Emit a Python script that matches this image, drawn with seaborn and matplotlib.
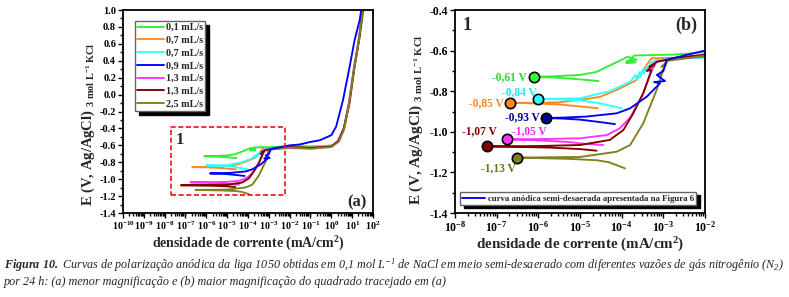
import numpy as np
import matplotlib
matplotlib.use('Agg')
import matplotlib.pyplot as plt
import matplotlib.ticker as mticker
from matplotlib.patches import Rectangle
import seaborn as sns

# vazoes de N2 (legenda do painel a)
LEGENDAS = ['0,1 mL/s', '0,7 mL/s', '0,7 mL/s', '0,9 mL/s', '1,3 mL/s', '1,3 mL/s', '2,5 mL/s']
CORES = ['#33ee33', '#ff8822', '#33ffff', '#0000ff', '#ff33ff', '#800000', '#808020']
CORES_ECORR = ['#33ff33', '#ff8822', '#33ffff', '#000099', '#ff33ff', '#800000', '#808020']
CORES_ROTULO = ['#22dd22', '#ff8822', '#22e8e8', '#000099', '#ff22ff', '#800000', '#707018']
ROTULOS_ECORR = ['-0,61 V', '-0,85 V', '-0,84 V', '-0,93 V', '-1,05 V', '-1,07 V', '-1,13 V']

# densidade de corrente (mA/cm2) e potencial (V)
I_01 = [2.8e-5, 1.5e-5, 6e-6, 2.5e-6, 7.9e-7, 2e-6, 1e-5, 2.5e-5, 4.4e-5, 8e-5, 1.4e-4,
        2.3e-4, 1.3e-4, 2.2e-4, 1.3e-4, 2.0e-4, 5e-4, 1.5e-3, 4e-3, 1e-2, 3e-2, 1e-1,
        4e-1, 1.2, 2.5, 4.4, 7.6, 13, 23, 36]
E_01 = [-0.750, -0.745, -0.738, -0.733, -0.729, -0.727, -0.720, -0.705, -0.680, -0.655, -0.630,
        -0.645, -0.652, -0.658, -0.662, -0.624, -0.622, -0.620, -0.615, -0.608, -0.610, -0.612,
        -0.610, -0.598, -0.54, -0.38, -0.07, 0.33, 0.68, 1.02]

I_07a = [2.7e-5, 1e-5, 3e-6, 8e-7, 2.1e-7, 8e-7, 3e-6, 1e-5, 3e-5, 7.6e-5, 2.3e-4, 4e-4,
         5.2e-4, 8e-4, 2e-3, 1e-2, 1e-1, 1.0, 2.2, 4.0, 7.0, 12, 21, 33]
E_07a = [-0.884, -0.875, -0.865, -0.860, -0.857, -0.857, -0.855, -0.843, -0.828, -0.794, -0.745, -0.670,
         -0.638, -0.637, -0.635, -0.625, -0.630, -0.615, -0.55, -0.40, -0.10, 0.30, 0.66, 1.02]

I_07b = [1e-4, 3e-5, 1e-5, 3e-6, 1e-6, 3e-6, 1e-5, 5.2e-5, 1.6e-4, 2.2e-4, 2.3e-4, 2.7e-4,
         2.8e-4, 3.3e-4, 3.4e-4, 4.0e-4, 4.1e-4, 5.0e-4, 6.9e-4, 2e-3, 1e-2, 1e-1, 1.0, 2.2,
         4.0, 7.0, 12, 21, 33]
E_07b = [-0.884, -0.860, -0.845, -0.840, -0.838, -0.837, -0.835, -0.800, -0.753, -0.720, -0.745, -0.705,
         -0.730, -0.690, -0.715, -0.675, -0.700, -0.660, -0.646, -0.640, -0.635, -0.640, -0.610, -0.55,
         -0.40, -0.10, 0.30, 0.66, 1.02]

I_09 = [6.9e-5, 3e-5, 1e-5, 4e-6, 1.5e-6, 4e-6, 1.4e-5, 7.6e-5, 1.6e-4, 4e-4, 8.3e-4, 6e-4,
        1.1e-3, 7e-4, 1.0e-3, 1.2e-3, 3e-3, 1e-2, 3e-2, 1e-1, 2.8e-1, 1.0, 1.7, 3.6, 7.6,
        13, 23, 28]
E_09 = [-0.962, -0.952, -0.940, -0.935, -0.932, -0.930, -0.925, -0.909, -0.884, -0.827, -0.761, -0.755,
        -0.750, -0.720, -0.700, -0.646, -0.625, -0.600, -0.590, -0.560, -0.540, -0.48, -0.38, -0.07, 0.33,
        0.64, 0.88, 1.02]

I_13a = [3.6e-5, 1.5e-5, 5e-6, 1e-6, 1.74e-7, 1e-6, 1e-5, 4.4e-5, 9e-5, 1.6e-4, 3.3e-4, 5.2e-4,
         7e-4, 2e-3, 1e-2, 1e-1, 1.0, 2.0, 4.0, 7.0, 12, 21, 33]
E_13a = [-1.065, -1.060, -1.050, -1.042, -1.037, -1.036, -1.032, -1.016, -0.983, -0.930, -0.810, -0.700,
         -0.655, -0.640, -0.630, -0.630, -0.610, -0.55, -0.40, -0.10, 0.30, 0.66, 1.02]

I_13b = [2.5e-5, 1e-5, 2e-6, 3e-7, 6e-8, 3e-7, 1e-6, 1e-5, 5.2e-5, 1.1e-4, 1.9e-4, 3.3e-4,
         5.2e-4, 4e-4, 6e-4, 4.6e-4, 6.9e-4, 2e-3, 1e-2, 1e-1, 1.0, 2.2, 4.0, 7.5, 12.5, 22, 34]
E_13b = [-1.093, -1.085, -1.078, -1.074, -1.072, -1.071, -1.070, -1.065, -1.040, -0.991, -0.909, -0.810,
         -0.696, -0.700, -0.670, -0.680, -0.655, -0.635, -0.620, -0.630, -0.615, -0.55, -0.40, -0.10, 0.30,
         0.66, 1.02]

I_25 = [1.2e-4, 5e-5, 2.5e-5, 5e-6, 3.1e-7, 1e-6, 1e-5, 7.6e-5, 1.6e-4, 3.3e-4, 6.9e-4, 8.3e-4,
        1e-3, 8e-4, 1.2e-3, 9e-4, 1.3e-3, 3e-3, 1e-2, 1e-1, 1.0, 2.2, 4.0, 7.0, 12, 21, 33]
E_25 = [-1.180, -1.150, -1.140, -1.133, -1.127, -1.126, -1.124, -1.098, -1.065, -0.958, -0.794, -0.745,
        -0.696, -0.730, -0.663, -0.680, -0.650, -0.640, -0.625, -0.640, -0.620, -0.56, -0.42, -0.12, 0.28,
        0.64, 1.02]

CORRENTES = [I_01, I_07a, I_07b, I_09, I_13a, I_13b, I_25]
POTENCIAIS = [E_01, E_07a, E_07b, E_09, E_13a, E_13b, E_25]

# quadrado tracejado do painel (a)
ZOOM_X = (2.1e-8, 5.8e-3)
ZOOM_Y = (-1.186, -0.383)

# deslocamento dos rotulos de Ecorr (px) e alinhamento
DESLOC = [(-7, 0), (-6, 0), (-2, 7), (-6, 1), (5, 8), (9, 15), (-1, -11)]
ALINHA = ['right', 'right', 'right', 'right', 'left', 'right', 'right']
ORDEM_Z = [2.0, 2.1, 2.2, 2.6, 2.3, 2.4, 2.5]

sns.set_theme(style='ticks')
plt.rcParams['font.family'] = ['Liberation Serif', 'DejaVu Serif']
plt.rcParams['font.weight'] = 'bold'
plt.rcParams['mathtext.fontset'] = 'custom'
plt.rcParams['mathtext.rm'] = 'Liberation Serif'
plt.rcParams['mathtext.it'] = 'Liberation Serif:italic'
plt.rcParams['mathtext.bf'] = 'Liberation Serif:bold'
plt.rcParams['mathtext.bfit'] = 'Liberation Serif:italic:bold'
plt.rcParams['mathtext.default'] = 'regular'
plt.rcParams['axes.unicode_minus'] = False
plt.rcParams['axes.edgecolor'] = 'black'
plt.rcParams['xtick.color'] = 'black'
plt.rcParams['ytick.color'] = 'black'

fig = plt.figure(figsize=(7.89, 2.97), dpi=100, facecolor='white')
ax_a = fig.add_axes([0.1559, 0.2828, 0.3168, 0.6835])
ax_b = fig.add_axes([0.5767, 0.2828, 0.3168, 0.6835])


def desenha_curvas(ax):
    for k in range(len(CORRENTES)):
        sns.lineplot(x=CORRENTES[k], y=POTENCIAIS[k], sort=False, estimator=None,
                     color=CORES[k], linewidth=1.35, legend=False, ax=ax, zorder=ORDEM_Z[k])
    ax.set_xscale('log')


def formata_eixos(ax, tam_x, tam_y):
    ax.xaxis.set_major_locator(mticker.LogLocator(base=10, numticks=30))
    ax.xaxis.set_minor_locator(mticker.LogLocator(base=10, subs=np.arange(2, 10), numticks=30))
    ax.xaxis.set_minor_formatter(mticker.NullFormatter())
    ax.yaxis.set_major_locator(mticker.MultipleLocator(0.2))
    ax.yaxis.set_minor_locator(mticker.MultipleLocator(0.1))
    ax.yaxis.set_major_formatter(mticker.FuncFormatter(lambda v, p: f'{round(v, 1) + 0:.1f}'))
    ax.tick_params(which='both', direction='out', top=False, right=False, width=1.0, pad=1.5)
    ax.tick_params(axis='x', labelsize=tam_x)
    ax.tick_params(axis='y', labelsize=tam_y)
    ax.tick_params(which='major', length=3.5)
    ax.tick_params(which='minor', length=2)
    for s in ax.spines.values():
        s.set_linewidth(1.3)
        s.set_visible(True)


# ---------- painel (a) ----------
desenha_curvas(ax_a)
ax_a.set_xlim(1e-10, 1e2)
ax_a.set_ylim(-1.4, 1.0)
formata_eixos(ax_a, 7.2, 7.5)
ax_a.add_patch(Rectangle((ZOOM_X[0], ZOOM_Y[0]), ZOOM_X[1] - ZOOM_X[0], ZOOM_Y[1] - ZOOM_Y[0],
                         fill=False, edgecolor='#ee1111', linestyle=(0, (3, 1.6)), linewidth=1.2, zorder=5))
ax_a.text(0.228, 0.36, '1', transform=ax_a.transAxes, fontsize=12, fontweight='bold', ha='center', va='center')
ax_a.text(0.936, 0.054, '(a)', transform=ax_a.transAxes, fontsize=12, fontweight='bold', ha='center', va='center')
ax_a.legend(handles=ax_a.get_lines()[:7], labels=LEGENDAS, loc='upper left', bbox_to_anchor=(0.048, 0.946),
            borderaxespad=0, fontsize=7.3, handlelength=2.7, handletextpad=0.15, borderpad=0.2,
            labelspacing=0.36, fancybox=False, edgecolor='#666666', framealpha=1,
            shadow={'ox': 3, 'oy': -3, 'color': 'black', 'alpha': 1})
ax_a.set_xlabel('densidade de corrente (mA/cm$^{\\mathdefault{2}}$)', fontsize=10, fontweight='bold', labelpad=2)
ax_a.set_ylabel('E (V, Ag/AgCl) ${}_{\\mathdefault{3\\ mol\\ L^{-1}\\ KCl}}$', fontsize=10.5, fontweight='bold')
ax_a.yaxis.set_label_coords(-0.105, 0.44)

# ---------- painel (b) ----------
desenha_curvas(ax_b)
ax_b.set_xlim(1e-8, 1e-2)
ax_b.set_ylim(-1.4, -0.4)
formata_eixos(ax_b, 8.5, 8.5)
for k in range(len(CORRENTES)):
    j = int(np.argmin(CORRENTES[k]))
    sns.scatterplot(x=[CORRENTES[k][j]], y=[POTENCIAIS[k][j]], s=55, color=CORES_ECORR[k],
                    edgecolor='black', linewidth=1.2, ax=ax_b, zorder=6, legend=False)
    ax_b.annotate(ROTULOS_ECORR[k], (CORRENTES[k][j], POTENCIAIS[k][j]),
                  xytext=(DESLOC[k][0] * 0.72, DESLOC[k][1] * 0.72), textcoords='offset points',
                  ha=ALINHA[k], va='center', fontsize=8.3, fontweight='bold', color=CORES_ROTULO[k], zorder=7)
ax_b.text(0.03, 0.926, '1', transform=ax_b.transAxes, fontsize=13, fontweight='bold', ha='left', va='center')
ax_b.text(0.927, 0.926, '(b)', transform=ax_b.transAxes, fontsize=13, fontweight='bold', ha='center', va='center')
ax_b.legend(handles=[ax_b.get_lines()[3]], labels=['curva anódica semi-desaerada apresentada na Figura 6'],
            loc='lower left', bbox_to_anchor=(0.02, 0.04), borderaxespad=0, fontsize=6.3,
            handlelength=2.6, handletextpad=0.3, borderpad=0.25, fancybox=False, edgecolor='#666666',
            framealpha=1, shadow={'ox': 3, 'oy': -2, 'color': 'black', 'alpha': 1})
ax_b.set_xlabel('densidade de corrente (mA/cm$^{\\mathdefault{2}}$)', fontsize=10.8, fontweight='bold', labelpad=1)
ax_b.set_ylabel('E (V, Ag/AgCl) ${}_{\\mathdefault{3\\ mol\\ L^{-1}\\ KCl}}$', fontsize=11, fontweight='bold')
ax_b.yaxis.set_label_coords(-0.12, 0.46)

# ---------- legenda da figura ----------
linha1 = ('$\\mathbfit{Figura\\ 10.}$ Curvas de polarização anódica da liga 1050 obtidas em 0,1 mol '
          'L$^{\\mathdefault{-1}}$ de NaCl em meio semi-desaerado com diferentes vazões de gás nitrogênio '
          '(N$_{\\mathdefault{2}}$)')
linha2 = 'por 24 h: (a) menor magnificação e (b) maior magnificação do quadrado tracejado em (a)'
fig.text(0.005, 0.106, linha1, fontsize=8.7, fontweight='normal', style='italic', va='center', ha='left')
fig.text(0.005, 0.052, linha2, fontsize=8.7, fontweight='normal', style='italic', va='center', ha='left')

fig.savefig('out.png', dpi=100, facecolor='white')
